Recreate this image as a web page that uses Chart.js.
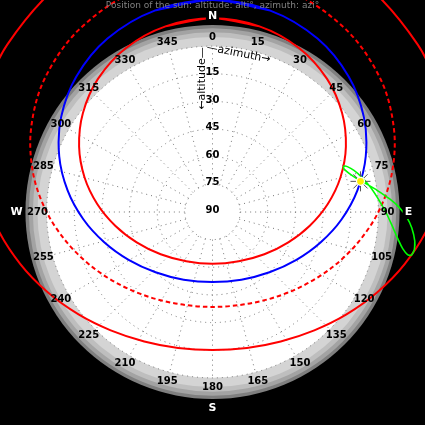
<!DOCTYPE html>
<html>
<head>
<meta charset="utf-8">
<script src="https://cdn.jsdelivr.net/npm/chart.js@4.4.1/dist/chart.umd.min.js"></script>
<style>
  html, body { margin: 0; padding: 0; background: #000; }
  #wrap { width: 425px; height: 425px; }
</style>
</head>
<body>
<div id="wrap"><canvas id="sky" width="425" height="425"></canvas></div>
<script>
// ─── DATA ─────────────────────────────────────────────────
const azimuthTicks = [0, 15, 30, 45, 60, 75, 90, 105, 120, 135, 150, 165,
    180, 195, 210, 225, 240, 255, 270, 285, 300, 315, 330, 345];
const altitudeTicks = [15, 30, 45, 60, 75, 90];
const gridAltitudes = [0, 15, 30, 45, 60, 75];
const compassLabels = ['N', 'E', 'S', 'W'];
const compassAzimuths = [0, 90, 180, 270];

// sun paths, one point per hour, azimuth (deg) / altitude (deg)
const summerAz  = [0, 14.2, 27.8, 40.7, 52.6, 63.9, 74.9, 86.0, 98.0, 111.8, 129.2, 151.9, 180,
    208.1, 230.8, 248.2, 262.0, 274.0, 285.1, 296.1, 307.4, 319.3, 332.2, 345.8, 360];
const summerAlt = [-15.1, -13.9, -10.6, -5.3, 1.5, 9.4, 18.1, 27.3, 36.7, 45.7, 53.7, 59.7, 61.9,
    59.7, 53.7, 45.7, 36.7, 27.3, 18.1, 9.4, 1.5, -5.3, -10.6, -13.9, -15.1];

const equinoxAz  = [0, 19.0, 36.4, 52.0, 65.7, 78.2, 90, 101.8, 114.3, 128.1, 143.6, 161.0, 180,
    199.0, 216.4, 231.9, 245.7, 258.2, 270, 281.8, 294.3, 308.0, 323.6, 341.0, 360];
const equinoxAlt = [-38.5, -37.0, -32.6, -26.1, -18.1, -9.3, 0, 9.3, 18.1, 26.1, 32.6, 37.0, 38.5,
    37.0, 32.6, 26.1, 18.1, 9.3, 0, -9.3, -18.1, -26.1, -32.6, -37.0, -38.5];

const winterAz  = [0, 28.1, 50.8, 68.2, 82.0, 94.0, 105.1, 116.1, 127.4, 139.3, 152.2, 165.8, 180,
    194.2, 207.8, 220.7, 232.6, 243.9, 254.9, 266.0, 278.0, 291.8, 309.2, 331.9, 360];
const winterAlt = [-61.9, -59.7, -53.7, -45.7, -36.7, -27.3, -18.1, -9.4, -1.5, 5.3, 10.6, 13.9, 15.1,
    13.9, 10.6, 5.3, -1.5, -9.4, -18.1, -27.3, -36.7, -45.7, -53.7, -59.7, -61.9];

const todayAz  = [0, 16.0, 31.2, 45.2, 58.0, 70.0, 81.5, 93.2, 105.6, 119.7, 136.6, 156.9, 180,
    203.1, 223.4, 240.3, 254.4, 266.8, 278.5, 290.0, 302.0, 314.8, 328.8, 344.0, 360];
const todayAlt = [-25.0, -23.7, -20.0, -14.2, -6.9, 1.5, 10.5, 19.8, 29.0, 37.6, 45.0, 50.1, 52.0,
    50.1, 45.0, 37.6, 29.0, 19.8, 10.5, 1.5, -6.9, -14.2, -20.0, -23.7, -25.0];

// analemma: same clock time, twice a month
const analemmaAz  = [100.5, 98.2, 94.6, 91.5, 88.5, 85.8, 82.6, 80.0, 77.3, 75.0, 72.6, 71.3, 70.8,
    71.4, 73.6, 76.5, 80.9, 85.1, 90.0, 94.2, 98.4, 100.9, 102.3, 102.3, 101.7, 100.5];
const analemmaAlt = [-21.4, -20.9, -18.5, -15.4, -11.2, -6.4, -0.3, 4.5, 9.1, 12.1, 14.4, 15.0, 14.3,
    12.8, 10.0, 7.2, 3.4, 0.1, -4.0, -7.6, -11.8, -15.1, -18.3, -20.3, -20.9, -21.4];

const sunAz = 78.3;
const sunAlt = 8.0;

const titleText = 'Position of the sun: altitude: alti°, azimuth: azi°';

// ─── HELPERS ──────────────────────────────────────────────
const PX = 1.843; // pixels per degree of zenith distance
const FONT = '"DejaVu Sans", sans-serif';

function toXY(az, alt) {
    const r = 90 - alt, a = az * Math.PI / 180;
    return { x: r * Math.sin(a), y: r * Math.cos(a) };
}
const path = (az, alt) => az.map((a, i) => toXY(a, alt[i]));
// closed loops: add the neighbours so the spline has no kink at the seam
const loop = pts => [pts[pts.length - 2], ...pts, pts[1]];

function line(data, color, width, dash) {
    return {
        data, showLine: true, pointRadius: 0, borderColor: color, borderWidth: width,
        borderDash: dash || [], tension: 0.33, fill: false, clip: false,
    };
}

// ─── DIAL PLUGIN ──────────────────────────────────────────
const skyDial = {
    id: 'skyDial',
    beforeDatasetsDraw(chart) {
        const { ctx } = chart;
        const sx = chart.scales.x, sy = chart.scales.y;
        const cx = sx.getPixelForValue(0), cy = sy.getPixelForValue(0);
        const k = sx.getPixelForValue(1) - cx;
        ctx.save();
        // twilight rings
        [[101.5, '#7f7f7f'], [99.7, '#a3a3a3'], [97.5, '#bebebe'], [95, '#d4d4d4'], [90, '#ffffff']]
            .forEach(([r, c]) => {
                ctx.beginPath();
                ctx.arc(cx, cy, r * k, 0, Math.PI * 2);
                ctx.fillStyle = c;
                ctx.fill();
            });
        // dotted grid
        ctx.strokeStyle = '#777777';
        ctx.lineWidth = 1;
        ctx.setLineDash([1, 4]);
        gridAltitudes.forEach(alt => {
            ctx.beginPath();
            ctx.arc(cx, cy, (90 - alt) * k, 0, Math.PI * 2);
            ctx.stroke();
        });
        azimuthTicks.forEach(az => {
            const a = az * Math.PI / 180;
            ctx.beginPath();
            ctx.moveTo(cx + 15 * k * Math.sin(a), cy - 15 * k * Math.cos(a));
            ctx.lineTo(cx + 90 * k * Math.sin(a), cy - 90 * k * Math.cos(a));
            ctx.stroke();
        });
        ctx.restore();
    },
    afterDatasetsDraw(chart) {
        const { ctx } = chart;
        const sx = chart.scales.x, sy = chart.scales.y;
        const cx = sx.getPixelForValue(0), cy = sy.getPixelForValue(0);
        const k = sx.getPixelForValue(1) - cx;
        ctx.save();
        ctx.textAlign = 'center';
        ctx.textBaseline = 'middle';

        // azimuth labels
        ctx.fillStyle = '#000';
        ctx.font = 'bold 10px ' + FONT;
        azimuthTicks.forEach(az => {
            const a = az * Math.PI / 180;
            ctx.fillText(String(az), cx + 95 * k * Math.sin(a), cy - 95 * k * Math.cos(a));
        });
        // altitude labels
        altitudeTicks.forEach(alt => {
            ctx.fillText(String(alt), cx, cy - (90 - alt) * k - 1.5);
        });

        // axis names
        ctx.font = '11px ' + FONT;
        ctx.save();
        ctx.translate(cx - 10, cy - 133.5);
        ctx.rotate(-Math.PI / 2);
        ctx.fillText('←altitude—', 0, 0);
        ctx.restore();
        ctx.save();
        ctx.translate(cx + 26, cy - 158.5);
        ctx.rotate(11 * Math.PI / 180);
        ctx.fillText('—azimuth→', 0, 0);
        ctx.restore();

        // compass points
        ctx.font = 'bold 11px ' + FONT;
        compassLabels.forEach((lab, i) => {
            const a = compassAzimuths[i] * Math.PI / 180;
            const x = cx + 106.3 * k * Math.sin(a), y = cy - 106.3 * k * Math.cos(a);
            const w = ctx.measureText(lab).width;
            ctx.fillStyle = '#000';
            ctx.fillRect(x - w / 2 - 2, y - 7, w + 4, 14);
            ctx.fillStyle = '#fff';
            ctx.fillText(lab, x, y);
        });

        // title
        ctx.font = '9px ' + FONT;
        ctx.fillStyle = '#808080';
        ctx.fillText(titleText, cx, 6);
        ctx.restore();
    }
};

// ─── CHART ────────────────────────────────────────────────
const sunPoint = toXY(sunAz, sunAlt);

new Chart(document.getElementById('sky'), {
    type: 'scatter',
    data: {
        datasets: [
            {
                data: [sunPoint], pointStyle: 'circle', pointRadius: 4,
                pointBackgroundColor: '#ffee00', pointBorderColor: '#ffffff', pointBorderWidth: 1.2,
                clip: false,
            },
            {
                data: [sunPoint], pointStyle: 'star', pointRadius: 10,
                pointBorderColor: '#555555', pointBorderWidth: 1, clip: false,
            },
            line(loop(path(analemmaAz, analemmaAlt)), '#00ff00', 1.6),
            line(loop(path(todayAz, todayAlt)), '#0000ff', 2),
            line(loop(path(summerAz, summerAlt)), '#ff0000', 2),
            line(loop(path(equinoxAz, equinoxAlt)), '#ff0000', 2, [4.5, 3]),
            line(loop(path(winterAz, winterAlt)), '#ff0000', 2),
        ]
    },
    options: {
        responsive: false,
        animation: false,
        events: [],
        layout: { padding: 0, autoPadding: false },
        elements: { line: { capBezierPoints: false } },
        plugins: { legend: { display: false }, tooltip: { enabled: false } },
        scales: {
            x: { type: 'linear', display: false, min: -212.5 / PX, max: 212.5 / PX },
            y: { type: 'linear', display: false, min: -213 / PX, max: 212 / PX },
        }
    },
    plugins: [skyDial]
});
</script>
</body>
</html>
